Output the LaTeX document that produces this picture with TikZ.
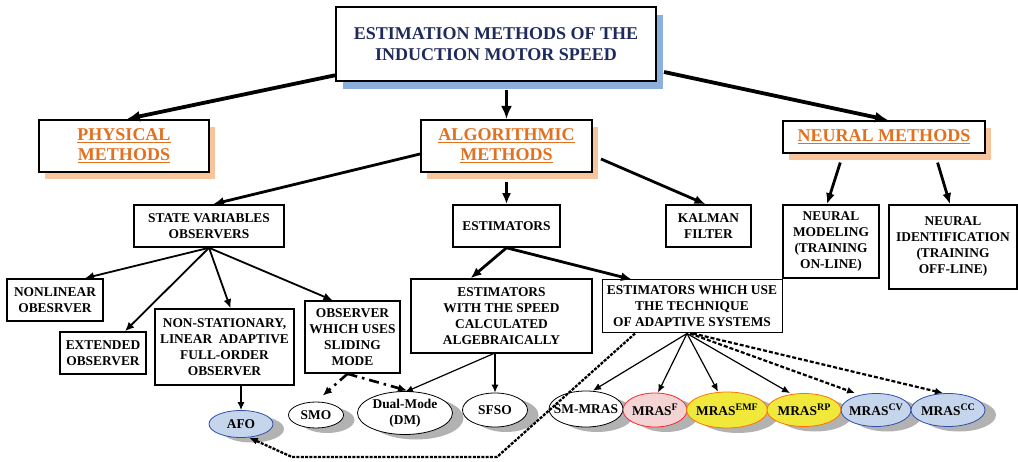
\documentclass[tikz,border=0pt]{standalone}
\usepackage{fontspec}
\setmainfont{Liberation Serif}
\usetikzlibrary{arrows.meta,shadows,shapes.geometric}

\definecolor{titlenavy}{HTML}{1F2A5C}
\definecolor{methorange}{HTML}{E3701E}
\definecolor{orangeshadow}{HTML}{F7C49C}
\definecolor{blueshadow}{HTML}{8DAFDB}
\definecolor{ovalblue}{HTML}{C5D5EC}
\definecolor{ovalblueline}{HTML}{2F4FA8}
\definecolor{ovalpink}{HTML}{F3D3D3}
\definecolor{ovalyellow}{HTML}{F1E83C}

\newcommand{\mrasidx}[1]{MRAS\raisebox{5pt}{\fontsize{10}{10}\selectfont #1}}

\begin{document}
\begin{tikzpicture}[
        x=1pt, y=-1pt,
        font=\bfseries\fontsize{13.4}{16}\selectfont,
        box/.style={draw, line width=1.6pt, fill=white, align=center, inner sep=2pt},
        headbox/.style={box, line width=2pt,
          drop shadow={shadow xshift=6pt, shadow yshift=-7pt, fill=orangeshadow, opacity=1}},
        oval/.style={ellipse, draw, line width=0.8pt, fill=white, inner sep=0pt,
          drop shadow={shadow xshift=11pt, shadow yshift=-5pt, fill=black!30, opacity=1}},
        blueoval/.style={oval, draw=ovalblueline, fill=ovalblue},
        pinkoval/.style={oval, draw=red!85, fill=ovalpink},
        yellowoval/.style={oval, draw=orange!90!red, fill=ovalyellow},
        bigarrow/.style={line width=3.8pt, -{Latex[length=13pt,width=11pt]}},
        midarrow/.style={line width=2.8pt, -{Latex[length=11pt,width=9pt]}},
        thinarrow/.style={line width=1.8pt, -{Latex[length=9pt,width=8pt]}},
        smallarrow/.style={line width=1.2pt, -{Latex[length=8pt,width=7pt]}},
        dashedarrow/.style={line width=2.2pt, dash pattern=on 4pt off 2pt, -{Latex[length=8pt,width=7pt]}},
        dotarrow/.style={line width=2.3pt, dash pattern=on 3pt off 1.3pt, -{Latex[length=9pt,width=7pt]}},
        dasharrow/.style={line width=2.6pt, dash pattern=on 10pt off 5pt on 2.5pt off 5pt, -{Latex[length=9pt,width=8pt]}}
      ]
      \useasboundingbox (0,0) rectangle (1018,462);

      % top level
      \node[box, line width=2pt, minimum width=320pt, minimum height=74pt,
        font=\bfseries\fontsize{18}{21.7}\selectfont, text=titlenavy,
        drop shadow={shadow xshift=7pt, shadow yshift=-8pt, fill=blueshadow, opacity=1}]
        (title) at (496,44) {ESTIMATION METHODS OF THE\\INDUCTION MOTOR SPEED};
      \node[headbox, minimum width=170pt, minimum height=52pt,
        font=\bfseries\fontsize{18}{20}\selectfont, text=methorange]
        (phys) at (124,146) {\underline{PHYSICAL}\\\underline{METHODS}};
      \node[headbox, minimum width=171pt, minimum height=52pt,
        font=\bfseries\fontsize{18}{20}\selectfont, text=methorange]
        (algo) at (506.5,146) {\underline{ALGORITHMIC}\\\underline{METHODS}};
      \node[headbox, minimum width=202pt, minimum height=32pt,
        font=\bfseries\fontsize{18}{20}\selectfont, text=methorange]
        (neural) at (884,137) {\underline{NEURAL METHODS}};

      % second level
      \node[box, minimum width=150pt, minimum height=42pt] (state) at (209,226) {STATE VARIABLES\\OBSERVERS};
      \node[box, minimum width=107pt, minimum height=42pt] (estim) at (506.5,226) {ESTIMATORS};
      \node[box, minimum width=85pt, minimum height=42pt] (kalman) at (708.5,226) {KALMAN\\FILTER};
      \node[box, minimum width=96pt, minimum height=73pt] (nmod) at (831,241.5) {NEURAL\\MODELING\\(TRAINING\\ON-LINE)};
      \node[box, minimum width=128pt, minimum height=84pt] (nid) at (953,247) {NEURAL\\IDENTIFICATION\\(TRAINING\\OFF-LINE)};

      % third level
      \node[box, minimum width=96pt, minimum height=42pt] (nonlin) at (55,300) {NONLINEAR\\OBESRVER};
      \node[box, minimum width=86pt, minimum height=42pt] (ext) at (103,353) {EXTENDED\\OBSERVER};
      \node[box, minimum width=139pt, minimum height=76pt] (nonstat) at (224.5,347) {NON-STATIONARY,\\LINEAR\ \ ADAPTIVE\\FULL-ORDER\\OBSERVER};
      \node[box, minimum width=95pt, minimum height=72pt] (sliding) at (352.5,337) {OBSERVER\\WHICH USES\\SLIDING\\MODE};
      \node[box, line width=1.3pt, minimum width=181pt, minimum height=74pt] (algeb) at (501.5,316) {ESTIMATORS\\WITH THE SPEED\\CALCULATED\\ALGEBRAICALLY};
      \node[box, line width=1pt, minimum width=180pt, minimum height=53pt] (adapt) at (692,306.5) {ESTIMATORS WHICH USE\\THE TECHNIQUE\\OF ADAPTIVE SYSTEMS};

      % estimators
      \node[blueoval, minimum width=64pt, minimum height=27pt, label=center:AFO] (afo) at (241,424) {};
      \node[oval, minimum width=55pt, minimum height=26pt, label=center:SMO] (smo) at (316,415) {};
      \node[oval, minimum width=95pt, minimum height=43pt, label={[align=center]center:Dual-Mode\\(DM)}] (dm) at (405,413) {};
      \node[oval, minimum width=65pt, minimum height=34pt, label=center:SFSO] (sfso) at (495,410) {};
      \node[oval, minimum width=74pt, minimum height=36pt, label=center:SM-MRAS] (smmras) at (586,409) {};
      \node[pinkoval, minimum width=64pt, minimum height=34pt, label=center:{\mrasidx{F}}] (mrasf) at (655,410) {};
      \node[yellowoval, minimum width=81pt, minimum height=36pt, label=center:{\mrasidx{EMF}}] (mrasemf) at (727,410) {};
      \node[yellowoval, minimum width=74pt, minimum height=33pt, label=center:{\mrasidx{RP}}] (mrasrp) at (804,410) {};
      \node[blueoval, minimum width=70pt, minimum height=33pt, label=center:{\mrasidx{CV}}] (mrascv) at (876,410) {};
      \node[blueoval, minimum width=74pt, minimum height=33pt, label=center:{\mrasidx{CC}}] (mrascc) at (948,410) {};

      \coordinate (loopr) at (497,457);
      \coordinate (loopl) at (292,457);

      % connectors
      \draw[bigarrow] (title.191) -- ([xshift=3pt]phys.north);
      \draw[bigarrow, shorten <=8pt] (algo.north |- title.south) -- (algo.north);
      \draw[bigarrow] ([xshift=7pt, yshift=-28pt]title.east) -- ([xshift=4pt]neural.north);

      \draw[midarrow] ([yshift=-8pt]algo.west) -- ([xshift=4pt]state.north);
      \draw[midarrow, shorten <=9pt] (algo.south) -- (estim.north);
      \draw[midarrow] ([xshift=8pt, yshift=-13pt]algo.east) -- ([xshift=-3pt]kalman.north);
      \draw[midarrow, shorten <=9pt] ([xshift=-41pt]neural.south) -- ([xshift=-4pt]nmod.north);
      \draw[midarrow, shorten <=9pt] ([xshift=51pt]neural.south) -- ([xshift=-3pt]nid.north);

      \draw[thinarrow] (state.south) -- ([xshift=30pt]nonlin.north);
      \draw[thinarrow] (state.south) -- ([xshift=22pt]ext.north);
      \draw[thinarrow] (state.south) -- ([xshift=6pt]nonstat.north);
      \draw[thinarrow] (state.south) -- ([xshift=-20pt]sliding.north);

      \draw[midarrow] (estim.south) -- ([xshift=-31pt]algeb.north);
      \draw[midarrow] (estim.south) -- ([xshift=-60pt]adapt.north);

      \draw[smallarrow] (afo.north |- nonstat.south) -- (afo.north);
      \draw[smallarrow] ([xshift=-8pt]algeb.south) -- ([yshift=-1pt]dm.north);
      \draw[smallarrow] (sfso.north |- algeb.south) -- (sfso.north);
      \draw[dasharrow, shorten >=9pt] ([xshift=-5pt]sliding.south) -- (smo.north);
      \draw[dasharrow, shorten >=2pt] ([xshift=-5pt]sliding.south) -- ([xshift=4pt]dm.north);

      \draw[smallarrow] ([xshift=-5pt]adapt.south) -- ([xshift=7pt]smmras.north);
      \draw[smallarrow] ([xshift=-5pt]adapt.south) -- ([xshift=3pt]mrasf.north);
      \draw[smallarrow] ([xshift=-5pt]adapt.south) -- ([xshift=-9pt]mrasemf.north);
      \draw[smallarrow] ([xshift=-5pt]adapt.south) -- ([xshift=-14pt]mrasrp.north);
      \draw[dashedarrow] ([xshift=-2pt]adapt.south) -- ([xshift=-21pt]mrascv.north);
      \draw[dashedarrow] ([xshift=1pt]adapt.south) -- ([xshift=-5pt]mrascc.north);
      \draw[dotarrow] ([xshift=-57pt]adapt.south) -- (loopr) -- (loopl) -- (afo.-60);
\end{tikzpicture}
\end{document}
